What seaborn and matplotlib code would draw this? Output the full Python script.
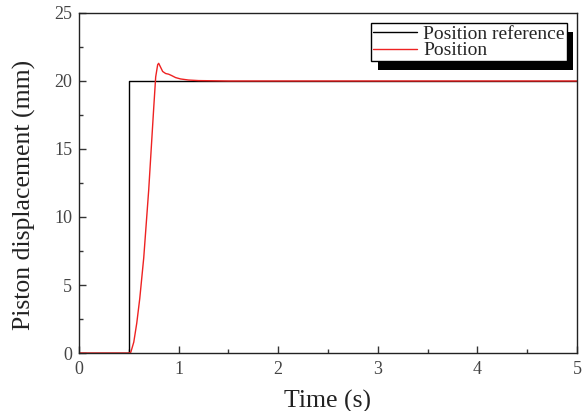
import numpy as np
import pandas as pd
import seaborn as sns
import matplotlib
matplotlib.use("Agg")
import matplotlib.pyplot as plt
from matplotlib import patheffects as pe
from matplotlib.ticker import MultipleLocator

# Data
ref_t = [0.0, 0.5, 0.5, 5.0]
ref_y = [0.0, 0.0, 20.0, 20.0]

pos_t = [0.0, 0.50, 0.52, 0.55, 0.58, 0.61, 0.65, 0.70, 0.75, 0.77, 0.79, 0.80,
         0.82, 0.84, 0.87, 0.90, 0.93, 0.97, 1.02, 1.10, 1.20, 1.50, 2.00, 3.00, 4.00, 5.00]
pos_y = [0.0, 0.0, 0.05, 0.8, 2.2, 4.0, 7.0, 12.0, 18.0, 20.3, 21.2, 21.3,
         21.0, 20.7, 20.55, 20.5, 20.4, 20.25, 20.15, 20.07, 20.03, 20.0, 20.0, 20.0, 20.0, 20.0]

sns.set_theme(style="ticks")
plt.rcParams['font.family'] = ['Liberation Serif', 'DejaVu Serif']

fig = plt.figure(figsize=(5.83, 4.11), dpi=100)
ax = fig.add_axes([0.1355, 0.1411, 0.8542, 0.8273])

df_ref = pd.DataFrame({"t": ref_t, "y": ref_y})
df_pos = pd.DataFrame({"t": pos_t, "y": pos_y})
sns.lineplot(data=df_ref, x="t", y="y", ax=ax, color="black", lw=1.0,
             label="Position reference", sort=False, estimator=None)
sns.lineplot(data=df_pos, x="t", y="y", ax=ax, color="#ee2222", lw=1.0,
             label="Position", sort=False, estimator=None)

ax.set_xlim(0, 5)
ax.set_ylim(0, 25)
ax.xaxis.set_major_locator(MultipleLocator(1))
ax.xaxis.set_minor_locator(MultipleLocator(0.5))
ax.yaxis.set_major_locator(MultipleLocator(5))
ax.yaxis.set_minor_locator(MultipleLocator(2.5))
ax.tick_params(which="both", direction="in", top=False, right=False, colors="#333333",
               labelcolor="#444444")
ax.tick_params(which="major", length=5, width=1, labelsize=13)
ax.tick_params(axis="x", which="major", pad=6)
ax.tick_params(axis="y", which="major", pad=5)
ax.tick_params(which="minor", length=3, width=1)
for s in ax.spines.values():
    s.set_color("#222222")
    s.set_linewidth(1.0)
    s.set_visible(True)

ax.set_xlabel("Time (s)", fontsize=18.5, color="#222222", labelpad=8)
ax.set_ylabel("Piston displacement (mm)", fontsize=18.5, color="#222222")
ax.yaxis.set_label_coords(-0.086, 0.465)

leg = ax.legend(loc="upper right", bbox_to_anchor=(0.979, 0.97), fontsize=14,
                frameon=True, fancybox=False, framealpha=1, edgecolor="black",
                handlelength=2.3, borderpad=0.1, labelspacing=-0.05, handletextpad=0.3,
                borderaxespad=0)
frame = leg.get_frame()
frame.set_linewidth(1.0)
frame.set_path_effects([pe.SimplePatchShadow(offset=(5, -6), shadow_rgbFace="black", alpha=1),
                        pe.Normal()])

fig.savefig("out.png", dpi=100)
